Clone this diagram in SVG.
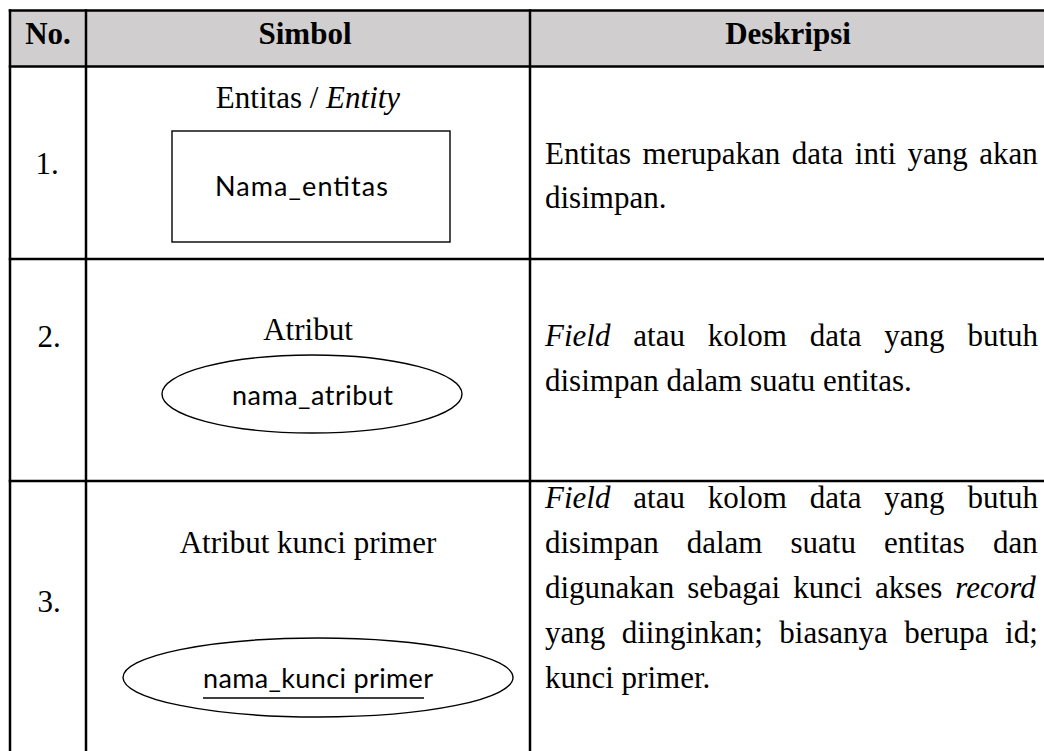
<svg xmlns="http://www.w3.org/2000/svg" width="1044" height="751" viewBox="0 0 1044 751">
<style>
.ser{font-family:"Liberation Serif","Times New Roman",serif;font-size:31px;fill:#000}
.hd{font-weight:bold;text-anchor:middle}
.mid{text-anchor:middle}
.it{font-style:italic}
.sans{font-family:Lato,"Liberation Sans",sans-serif;font-size:27px;fill:#000}
.grid{stroke:#000;stroke-width:2.5;fill:none}
.shape{stroke:#000;stroke-width:1.4;fill:#fff}
</style>
<rect x="10" y="10" width="1034" height="56" fill="#d0cece"/>
<g id="grid" class="grid">
<line x1="8.75" y1="10.5" x2="1044" y2="10.5"/>
<line x1="8.75" y1="66.5" x2="1044" y2="66.5"/>
<line x1="8.75" y1="259" x2="1044" y2="259"/>
<line x1="8.75" y1="481" x2="1044" y2="481"/>
<line x1="10" y1="9.25" x2="10" y2="751"/>
<line x1="86" y1="9.25" x2="86" y2="751"/>
<line x1="530" y1="9.25" x2="530" y2="751"/>
</g>
<g id="header">
<text class="ser hd" x="48" y="44">No.</text>
<text class="ser hd" x="305" y="44">Simbol</text>
<text class="ser hd" x="788" y="44">Deskripsi</text>
</g>
<g id="row1">
<text class="ser mid" x="47" y="174">1.</text>
<text class="ser mid" x="308" y="108">Entitas / <tspan class="it">Entity</tspan></text>
<g id="entity">
<rect class="shape" x="172" y="131" width="278" height="111"/>
<text class="sans" x="215" y="196" textLength="173">Nama_entitas</text>
</g>
<text class="ser" x="545" y="164" word-spacing="3.7">Entitas merupakan data inti yang akan</text>
<text class="ser" x="545" y="208">disimpan.</text>
</g>
<g id="row2">
<text class="ser mid" x="49" y="347">2.</text>
<text class="ser mid" x="308" y="340">Atribut</text>
<g id="attribute">
<ellipse class="shape" cx="312" cy="394" rx="150" ry="39"/>
<text class="sans" x="232" y="405" textLength="161">nama_atribut</text>
</g>
<text class="ser" x="545" y="346" word-spacing="15.1"><tspan class="it">Field</tspan> atau kolom data yang butuh</text>
<text class="ser" x="545" y="391">disimpan dalam suatu entitas.</text>
</g>
<g id="row3">
<text class="ser mid" x="49" y="612">3.</text>
<text class="ser mid" x="308" y="553">Atribut kunci primer</text>
<g id="primary-key">
<ellipse class="shape" cx="318" cy="677.5" rx="195" ry="39.5"/>
<text class="sans" x="203" y="688" textLength="230">nama_kunci primer</text>
<line x1="203" y1="698" x2="424" y2="698" stroke="#000" stroke-width="1.3"/>
</g>
<text class="ser" x="545" y="508" word-spacing="15.1"><tspan class="it">Field</tspan> atau kolom data yang butuh</text>
<text class="ser" x="545" y="553" word-spacing="20.3">disimpan dalam suatu entitas dan</text>
<text class="ser" x="545" y="598" word-spacing="5.3">digunakan sebagai kunci akses <tspan class="it">record</tspan></text>
<text class="ser" x="545" y="643" word-spacing="8.7">yang diinginkan; biasanya berupa id;</text>
<text class="ser" x="545" y="688">kunci primer.</text>
</g>
</svg>
